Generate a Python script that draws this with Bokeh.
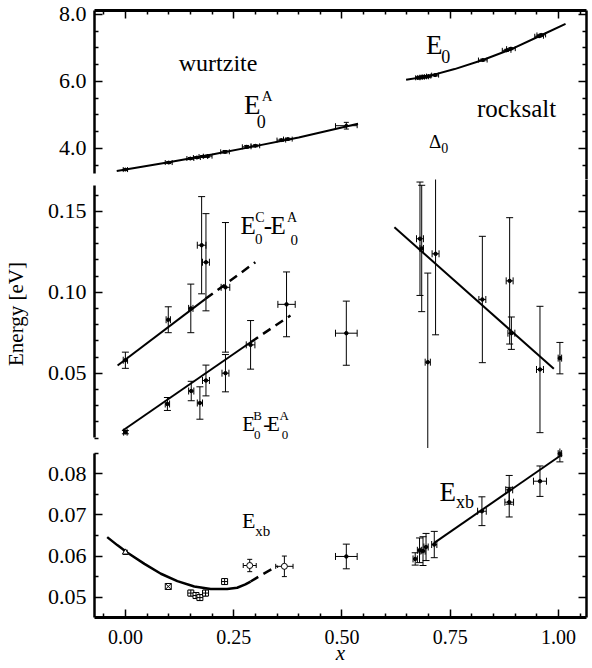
from bokeh.plotting import figure
from bokeh.models import (Range1d, LinearAxis, FixedTicker, PrintfTickFormatter,
                          CustomJSTickFormatter, Whisker, TeeHead, ColumnDataSource, Label)
from bokeh.layouts import column
from bokeh.embed import file_html
from bokeh.resources import INLINE

FONT = "Liberation Serif"

# ---------------- data ----------------
# x-axis ticks
x_major = [0.0, 0.25, 0.5, 0.75, 1.0]
x_minor = [-0.05, 0.05, 0.10, 0.15, 0.20, 0.30, 0.35, 0.40, 0.45, 0.55, 0.60, 0.65,
           0.70, 0.80, 0.85, 0.90, 0.95, 1.05]

# top panel: E0A (wurtzite) points
e0a_x = [0.00, 0.10, 0.15, 0.165, 0.18, 0.19, 0.23, 0.28, 0.30, 0.36, 0.375, 0.51]
e0a_y = [3.37, 3.58, 3.70, 3.73, 3.76, 3.77, 3.90, 4.05, 4.08, 4.25, 4.28, 4.68]
e0a_xe = [0.005, 0.008, 0.008, 0.008, 0.01, 0.01, 0.01, 0.01, 0.01, 0.01, 0.01, 0.025]
e0a_ye = [0.02, 0.03, 0.03, 0.03, 0.03, 0.03, 0.04, 0.04, 0.03, 0.03, 0.03, 0.10]
e0a_fit_x = [-0.02, 0.10, 0.20, 0.30, 0.40, 0.537]
e0a_fit_y = [3.33, 3.59, 3.82, 4.07, 4.33, 4.74]

# top panel: E0 (rocksalt) points
e0r_x = [0.675, 0.68, 0.685, 0.69, 0.695, 0.70, 0.715, 0.825, 0.88, 0.89, 0.955, 0.96]
e0r_y = [6.11, 6.12, 6.13, 6.14, 6.14, 6.16, 6.19, 6.64, 6.93, 6.98, 7.35, 7.39]
e0r_xe = [0.005, 0.005, 0.005, 0.005, 0.005, 0.005, 0.008, 0.01, 0.01, 0.01, 0.01, 0.01]
e0r_ye = [0.03] * 12
e0r_fit_x = [0.648, 0.70, 0.76, 0.825, 0.89, 0.96, 1.016]
e0r_fit_y = [6.05, 6.16, 6.37, 6.64, 6.96, 7.38, 7.72]

# middle panel: E0C - E0A
ec_x = [0.00, 0.099, 0.151, 0.176, 0.186, 0.231]
ec_y = [0.058, 0.083, 0.090, 0.129, 0.1185, 0.103]
ec_xe = [0.005, 0.005, 0.005, 0.01, 0.008, 0.01]
ec_ye = [0.005, 0.008, 0.015, 0.030, 0.030, 0.040]
ec_fit_x = [-0.018, 0.185]
ec_fit_y = [0.0548, 0.0959]
ec_dash_x = [0.185, 0.30]
ec_dash_y = [0.0959, 0.1185]

# middle panel: E0B - E0A
eb_x = [0.00, 0.097, 0.152, 0.172, 0.186, 0.231, 0.289, 0.372]
eb_y = [0.0136, 0.031, 0.039, 0.0316, 0.0455, 0.050, 0.0675, 0.0925]
eb_xe = [0.004, 0.005, 0.006, 0.006, 0.008, 0.008, 0.01, 0.02]
eb_ye = [0.001, 0.004, 0.006, 0.010, 0.0095, 0.0115, 0.015, 0.020]
eb_fit_x = [-0.006, 0.289]
eb_fit_y = [0.0146, 0.0691]
eb_dash_x = [0.289, 0.381]
eb_dash_y = [0.0691, 0.0856]

# middle panel: point at x = 0.51
mid51_x = [0.510]
mid51_y = [0.0747]
mid51_xe = [0.025]
mid51_ye = [0.0198]

# middle panel: Delta0 (rocksalt)
d0_x = [0.680, 0.684, 0.698, 0.716, 0.824, 0.887, 0.891, 0.957, 1.003]
d0_y = [0.133, 0.127, 0.0568, 0.1237, 0.0955, 0.107, 0.0747, 0.0523, 0.0593]
d0_xe = [0.008, 0.004, 0.006, 0.008, 0.008, 0.008, 0.008, 0.008, 0.004]
d0_ye = [0.035, 0.039, 0.055, 0.050, 0.039, 0.039, 0.010, 0.039, 0.0097]
d0_fit_x = [0.621, 0.989]
d0_fit_y = [0.1401, 0.0527]

# bottom panel: Exb (wurtzite)
xbw_x = [0.00, 0.099, 0.151, 0.163, 0.172, 0.185, 0.229, 0.287, 0.367]
xbw_y = [0.0609, 0.0526, 0.0510, 0.0504, 0.0499, 0.0510, 0.0538, 0.0577, 0.0575]
xbw_xe = [0.003, 0.004, 0.005, 0.005, 0.005, 0.005, 0.006, 0.015, 0.020]
xbw_ye = [0.0005, 0.0007, 0.0007, 0.0007, 0.0007, 0.0007, 0.0007, 0.0015, 0.0025]
xbw_mk = ["triangle", "square_x", "square_cross", "square_cross", "square_cross",
          "square_cross", "square_cross", "circle", "circle"]
xbw_fit_x = [-0.042, -0.018, 0.005, 0.044, 0.082, 0.120, 0.159, 0.197, 0.235, 0.258, 0.277, 0.289]
xbw_fit_y = [0.0646, 0.0626, 0.0608, 0.0581, 0.0557, 0.0539, 0.0526, 0.0520, 0.0520, 0.0523, 0.0531, 0.0538]
xbw_dash_x = [0.289, 0.312, 0.343, 0.352]
xbw_dash_y = [0.0538, 0.0553, 0.0571, 0.0575]

# bottom panel: point at x = 0.51
bot51_x = [0.510]
bot51_y = [0.0599]
bot51_xe = [0.025]
bot51_ye = [0.003]

# bottom panel: Exb (rocksalt)
xbr_x = [0.669, 0.679, 0.687, 0.694, 0.713, 0.823, 0.886, 0.886, 0.957, 1.003]
xbr_y = [0.0593, 0.0614, 0.0612, 0.0622, 0.0628, 0.0709, 0.0761, 0.0731, 0.0782, 0.0849]
xbr_xe = [0.005, 0.005, 0.005, 0.005, 0.006, 0.010, 0.008, 0.010, 0.015, 0.004]
xbr_ye = [0.0015, 0.003, 0.0035, 0.0033, 0.0032, 0.0035, 0.0035, 0.0036, 0.0037, 0.002]
xbr_fit_x = [0.713, 1.008]
xbr_fit_y = [0.0632, 0.0847]

# ---------------- figures ----------------
xr = Range1d(-0.0713, 1.0644)


def make_fig(h, y0, y1, top, bottom):
    p = figure(width=592, height=h, x_range=xr, y_range=Range1d(y0, y1),
               x_axis_type=None, y_axis_type=None, toolbar_location=None,
               output_backend="svg", min_border_left=92, min_border_right=6,
               min_border_top=top, min_border_bottom=bottom)
    p.outline_line_color = None
    p.background_fill_color = "white"
    p.border_fill_color = "white"
    return p


def add_axis(p, loc, major, minor, bounds=None, labels=True, fmt="%.2f", lw=2.5,
             standoff=8, size=22):
    if labels:
        formatter = PrintfTickFormatter(format=fmt)
    else:
        formatter = CustomJSTickFormatter(code="return '';")
    ax = LinearAxis(ticker=FixedTicker(ticks=major, minor_ticks=minor), formatter=formatter)
    ax.axis_line_width = lw
    ax.axis_line_color = "black"
    ax.major_tick_in = 8
    ax.major_tick_out = 0
    ax.minor_tick_in = 4
    ax.minor_tick_out = 0
    ax.major_tick_line_width = 1.5
    ax.minor_tick_line_width = 1.5
    if bounds is not None:
        ax.bounds = bounds
    if labels:
        ax.major_label_text_font = FONT
        ax.major_label_text_font_size = f"{size}px"
        ax.major_label_text_color = "black"
        ax.major_label_standoff = standoff
    else:
        ax.major_label_text_font_size = "1px"
        ax.major_label_text_color = None
        ax.major_label_standoff = 0
    p.add_layout(ax, loc)
    return ax


def err(p, xs, ys, xe, ye, cap=7, size=3.5, marker="circle", fill="black"):
    data = dict(
        x=xs, y=ys,
        xlo=[a - b for a, b in zip(xs, xe)], xhi=[a + b for a, b in zip(xs, xe)],
        ylo=[a - b for a, b in zip(ys, ye)], yhi=[a + b for a, b in zip(ys, ye)])
    if isinstance(marker, list):
        data["mk"] = marker
        marker = "mk"
    src = ColumnDataSource(data)
    p.add_layout(Whisker(source=src, base="x", lower="ylo", upper="yhi", dimension="height",
                         line_width=1, line_color="black",
                         upper_head=TeeHead(size=cap, line_width=1, line_color="black"),
                         lower_head=TeeHead(size=cap, line_width=1, line_color="black")))
    p.add_layout(Whisker(source=src, base="y", lower="xlo", upper="xhi", dimension="width",
                         line_width=1, line_color="black",
                         upper_head=TeeHead(size=cap, line_width=1, line_color="black"),
                         lower_head=TeeHead(size=cap, line_width=1, line_color="black")))
    p.scatter("x", "y", source=src, size=size, marker=marker, line_color="black",
              fill_color=fill)


def txt(p, x, y, s, size, align="left", style="normal"):
    p.add_layout(Label(x=x, y=y, text=s, text_font=FONT, text_font_size=f"{size}px",
                       text_align=align, text_baseline="alphabetic",
                       y_offset=round(0.38 * size),
                       text_font_style=style, text_color="black"))


# ---- top panel ----
pt = make_fig(179, 3.074, 8.119, 10, 0)
add_axis(pt, "above", x_major, x_minor, labels=False, lw=3)
add_axis(pt, "left", [4.0, 6.0, 8.0], [3.5, 4.5, 5.0, 5.5, 6.5, 7.0, 7.5],
         bounds=(3.25, 8.119), fmt="%.1f")
add_axis(pt, "right", [4.0, 6.0, 8.0], [3.5, 4.5, 5.0, 5.5, 6.5, 7.0, 7.5], labels=False)

pt.line(e0a_fit_x, e0a_fit_y, line_width=2, color="black")
pt.line(e0r_fit_x, e0r_fit_y, line_width=2, color="black")
err(pt, e0a_x, e0a_y, e0a_xe, e0a_ye, cap=5, size=3)
err(pt, e0r_x, e0r_y, e0r_xe, e0r_ye, cap=5, size=3)

txt(pt, 0.214, 6.27, "wurtzite", 24, align="center")
txt(pt, 0.903, 4.90, "rocksalt", 25, align="center")
txt(pt, 0.2736, 4.985, "E", 27)
txt(pt, 0.315, 5.373, "A", 15)
txt(pt, 0.303, 4.597, "0", 18)
txt(pt, 0.694, 6.776, "E", 27)
txt(pt, 0.729, 6.537, "0", 18)
txt(pt, 0.701, 4.0, "\u0394", 19)
txt(pt, 0.729, 3.851, "0", 14)

# ---- middle panel ----
pm = make_fig(269, 0.00352, 0.16957, 0, 0)
mid_major = [0.05, 0.10, 0.15]
mid_minor = [0.01, 0.02, 0.03, 0.04, 0.06, 0.07, 0.08, 0.09, 0.11, 0.12, 0.13, 0.14, 0.16]
ax_m = add_axis(pm, "left", mid_major, mid_minor, bounds=(0.0103, 0.1659), fmt="%.2f")
ax_m.axis_label = "Energy [eV]"
ax_m.axis_label_text_font = FONT
ax_m.axis_label_text_font_size = "21px"
ax_m.axis_label_text_font_style = "normal"
ax_m.axis_label_text_color = "black"
ax_m.axis_label_standoff = 17
add_axis(pm, "right", mid_major, mid_minor, labels=False)

pm.line(ec_fit_x, ec_fit_y, line_width=2, color="black")
pm.line(ec_dash_x, ec_dash_y, line_width=2.5, color="black", line_dash="9 6")
pm.line(eb_fit_x, eb_fit_y, line_width=2, color="black")
pm.line(eb_dash_x, eb_dash_y, line_width=2.5, color="black", line_dash="9 6")
pm.line(d0_fit_x, d0_fit_y, line_width=2, color="black")
err(pm, ec_x, ec_y, ec_xe, ec_ye)
err(pm, eb_x, eb_y, eb_xe, eb_ye)
err(pm, mid51_x, mid51_y, mid51_xe, mid51_ye)
err(pm, d0_x, d0_y, d0_xe, d0_ye)

# E0C - E0A
txt(pm, 0.266, 0.135, "E", 25)
txt(pm, 0.300, 0.1428, "C", 14)
txt(pm, 0.299, 0.1293, "0", 15)
txt(pm, 0.3195, 0.135, "-", 25)
txt(pm, 0.335, 0.135, "E", 25)
txt(pm, 0.373, 0.143, "A", 14)
txt(pm, 0.381, 0.1288, "0", 15)
# E0B - E0A
txt(pm, 0.270, 0.01358, "E", 21)
txt(pm, 0.295, 0.0208, "B", 13)
txt(pm, 0.2966, 0.0085, "0", 13)
txt(pm, 0.318, 0.01358, "-", 21)
txt(pm, 0.327, 0.01358, "E", 21)
txt(pm, 0.356, 0.0208, "A", 13)
txt(pm, 0.361, 0.0085, "0", 13)

# ---- bottom panel ----
pb = make_fig(220, 0.04506, 0.08615, 0, 51)
bot_major = [0.05, 0.06, 0.07, 0.08]
bot_minor = [0.055, 0.065, 0.075, 0.085]
ax_b = add_axis(pb, "below", x_major, x_minor, fmt="%.2f", lw=3, standoff=12, size=20)
ax_b.axis_label = "x"
ax_b.axis_label_text_font = FONT
ax_b.axis_label_text_font_size = "21px"
ax_b.axis_label_text_font_style = "italic"
ax_b.axis_label_text_color = "black"
ax_b.axis_label_standoff = -6
add_axis(pb, "left", bot_major, bot_minor, bounds=(0.04506, 0.0850), fmt="%.2f")
add_axis(pb, "right", bot_major, bot_minor, labels=False)

pb.line(xbw_fit_x, xbw_fit_y, line_width=2.5, color="black")
pb.line(xbw_dash_x, xbw_dash_y, line_width=2.5, color="black", line_dash="9 6")
pb.line(xbr_fit_x, xbr_fit_y, line_width=2, color="black")
err(pb, xbw_x, xbw_y, xbw_xe, xbw_ye, cap=5, size=6, marker=xbw_mk, fill="white")
err(pb, bot51_x, bot51_y, bot51_xe, bot51_ye)
err(pb, xbr_x, xbr_y, xbr_xe, xbr_ye)

txt(pb, 0.269, 0.06663, "E", 22)
txt(pb, 0.2996, 0.06452, "xb", 15)
txt(pb, 0.725, 0.0731, "E", 27)
txt(pb, 0.763, 0.0715, "xb", 18)

layout = column(pt, pm, pb, spacing=0)
open("out.html", "w").write(file_html(layout, INLINE))
